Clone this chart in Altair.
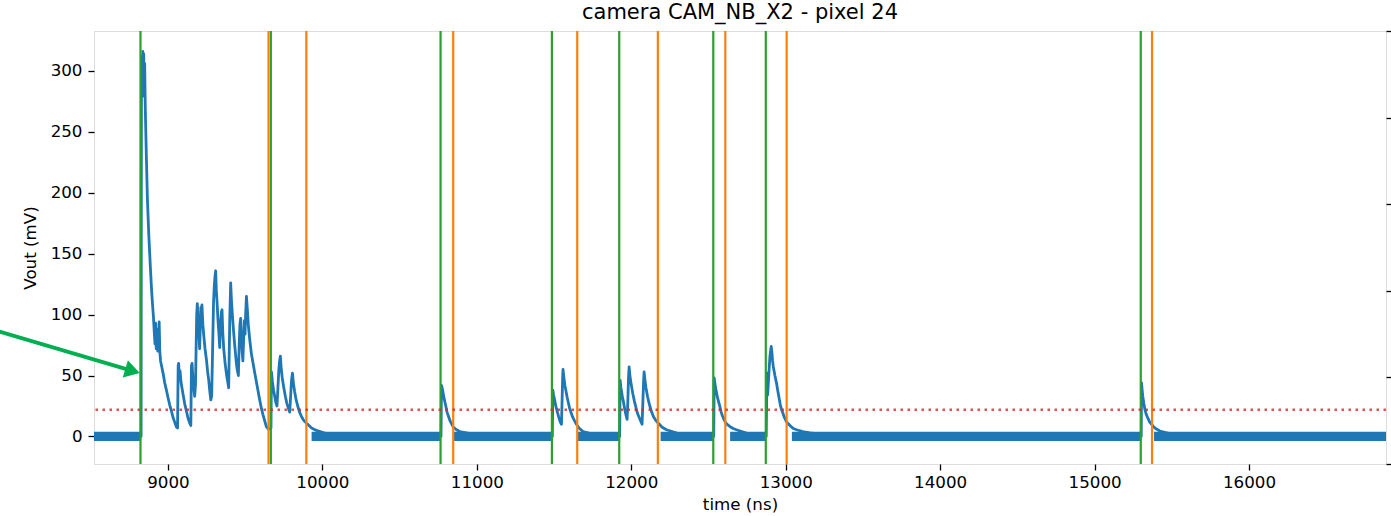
import altair as alt
import pandas as pd

# ---- data ----
times = [8521, 8826,
         8828, 8831, 8834, 8837, 8840, 8843, 8846, 8849, 8853, 8860, 8867, 8876, 8886, 8893, 8899, 8906, 8912, 8916,
         8920, 8924, 8929, 8934, 8939, 8943, 8947, 8952, 8960, 8968, 8979, 8990, 9000, 9011, 9022, 9032, 9043, 9054, 9062,
         9066, 9069, 9073, 9078, 9085, 9097, 9108, 9119, 9130, 9141, 9148,
         9152, 9156, 9162, 9167, 9173, 9178,
         9186, 9190, 9195, 9200, 9205, 9209, 9213, 9217, 9220, 9226, 9231, 9240, 9249, 9257, 9264, 9270, 9277, 9283,
         9295, 9300, 9305, 9309, 9313, 9318, 9324, 9330, 9335, 9340, 9346, 9350, 9355, 9361, 9370, 9380, 9388, 9393,
         9400, 9406, 9411, 9418, 9425, 9432, 9438, 9443, 9448, 9456, 9461, 9466, 9471, 9475, 9480, 9485, 9490, 9495,
         9499, 9503, 9508, 9513, 9520, 9529, 9540, 9551, 9562, 9578, 9594, 9605, 9615, 9626, 9637, 9650, 9667,
         9670, 9676, 9684, 9691, 9698, 9706, 9712, 9718, 9723, 9728, 9733, 9740, 9750, 9760, 9770, 9780, 9788,
         9793, 9800, 9806, 9812, 9820, 9830, 9840, 9852, 9866, 9880, 9896, 9913, 9930, 9945, 9961, 9985, 10010,
         10060, 10112, 10200, 10768,
         10771, 10777, 10784, 10790, 10799, 10807, 10815, 10823, 10830, 10846, 10868, 10889, 10950, 11019, 11100, 11489,
         11492, 11497, 11505, 11515, 11530, 11540, 11548, 11552, 11556, 11558, 11563, 11570, 11585, 11601, 11620,
         11632, 11645, 11665, 11688, 11750, 11850, 11925,
         11928, 11933, 11942, 11950, 11958, 11965, 11973, 11978, 11982, 11986, 11991, 11998, 12010, 12020, 12030,
         12040, 12050, 12060, 12070, 12075, 12080, 12083, 12088, 12095, 12105, 12112, 12120, 12132, 12145, 12160,
         12174, 12200, 12228, 12300, 12400, 12534,
         12537, 12542, 12550, 12560, 12573, 12582, 12590, 12600, 12612, 12625, 12640, 12660, 12681, 12750, 12800, 12874,
         12877, 12879, 12883, 12888, 12893, 12898, 12903, 12906, 12910, 12915, 12920, 12930, 12940, 12948, 12955,
         12965, 12973, 12982, 12990, 13005, 13020, 13035, 13050, 13070, 13110, 13156, 13230, 13300, 13450, 15302,
         15304, 15308, 15312, 15319, 15326, 15335, 15345, 15356, 15369, 15382, 15395, 15423, 15480, 15531, 15650, 16887]
volts = [0, 0,
         282, 312, 279, 316, 284, 314, 281, 306, 270, 230, 194, 165, 139, 122, 110, 98, 84, 76,
         93, 72, 88, 70, 82, 94, 70, 62, 57, 52, 44, 38, 32, 26, 21, 16, 12, 8, 7,
         58, 60, 50, 54, 44, 35, 27, 21, 15, 11, 9,
         58, 60, 46, 40, 33, 42,
         100, 109, 96, 86, 72, 88, 106, 100, 108, 92, 84, 72, 63, 53, 46, 38, 30, 33,
         110, 124, 132, 136, 120, 110, 95, 84, 73, 92, 102, 104, 85, 72, 60, 50, 44, 40,
         95, 126, 112, 98, 86, 75, 67, 60, 55, 50, 75, 92, 97, 82, 70, 62, 80, 95,
         84, 100, 115, 106, 92, 80, 68, 60, 52, 41, 30, 23, 18, 13, 8, 6, 7,
         53, 45, 38, 33, 28, 25, 40, 55, 62, 66, 56, 48, 40, 33, 27, 23, 20,
         30, 46, 52, 44, 37, 30, 25, 20, 16, 13, 11, 9, 7, 6, 5, 4, 3,
         1.8, 0.8, 0, 0,
         42, 39, 34, 30, 25, 20, 17, 14, 12, 8, 5.5, 4, 2.5, 1.2, 0, 0,
         38, 34, 29, 23, 16, 12, 10, 30, 50, 55, 49, 42, 32, 23, 16,
         13, 10, 6.5, 4, 2, 0.5, 0,
         46, 40, 33, 28, 22, 18, 14, 30, 48, 57, 50, 44, 35, 29, 24,
         19, 16, 13, 10, 28, 46, 53, 47, 40, 33, 29, 25, 20, 16, 13,
         11, 7.5, 5.5, 2.5, 0.8, 0,
         48, 43, 37, 31, 25, 20, 17, 14, 11, 9.5, 8, 6.5, 5.5, 2.5, 1, 0,
         36, 52, 34, 45, 56, 66, 71, 74, 70, 62, 57, 50, 44, 38, 33,
         26, 22, 19, 16, 12, 10, 8, 6.5, 5.5, 4, 3, 2, 1, 0, 0,
         44, 38, 33, 27, 22, 18, 15, 12, 10, 8, 6.5, 4.5, 2.5, 1.4, 0.3, 0]

# noisy baseline stretches (start, end) and their envelope
band_start = [8521, 9930, 10846, 11650, 12190, 12640, 13040, 15385]
band_end = [8826, 10768, 11489, 11925, 12534, 12874, 15302, 16887]
band_lo = [-3.8, -3.8, -3.8, -3.8, -3.8, -3.8, -3.8, -3.8]
band_hi = [3.8, 3.8, 3.8, 3.8, 3.8, 3.8, 3.8, 3.8]

green_t = [8822, 9666, 10765, 11486, 11922, 12531, 12871, 15299]
orange_t = [9651, 9896, 10847, 11650, 12172, 12609, 13006, 15372]
threshold = [22]

arrow_tail_t, arrow_tail_v = [7780], [90.9]
arrow_end_t, arrow_end_v = [8742], [54.8]
arrow_tip_t, arrow_tip_v = [8817], [52]

x_ticks = [9000, 10000, 11000, 12000, 13000, 14000, 15000, 16000]
y_ticks = [0, 50, 100, 150, 200, 250, 300]
right_ticks = [0, 0.2, 0.4, 0.6, 0.8, 1.0]

# ---- tables ----
trace = pd.DataFrame({"t": times, "v": volts, "i": list(range(len(times)))})
bands = pd.DataFrame({"t1": band_start, "t2": band_end, "lo": band_lo, "hi": band_hi})
greens = pd.DataFrame({"t": green_t})
oranges = pd.DataFrame({"t": orange_t})
thr = pd.DataFrame({"v": threshold})
shaft = pd.DataFrame({"t1": arrow_tail_t, "v1": arrow_tail_v, "t2": arrow_end_t, "v2": arrow_end_v})
tip = pd.DataFrame({"t": arrow_tip_t, "v": arrow_tip_v})
rdummy = pd.DataFrame({"r": [0, 1]})

FONT = "DejaVu Sans"
BLUE = "#1f77b4"
xs = alt.Scale(domain=[8521, 16887], nice=False, zero=False)
ys = alt.Scale(domain=[-22.6, 332.8], nice=False, zero=False)

xaxis = alt.Axis(values=x_ticks, format="d", title="time (ns)", grid=False, domain=False,
                 tickColor="black", tickSize=6, tickWidth=1.3, labelFontSize=16.7,
                 labelColor="black", labelPadding=4, labelFont=FONT,
                 titleFontSize=16.7, titleFontWeight="normal", titleColor="black", titleFont=FONT,
                 titleX=646, titleY=40, titleBaseline="middle", titleAlign="center")
yaxis = alt.Axis(values=y_ticks, title="Vout (mV)", grid=False, domain=False,
                 tickColor="black", tickSize=6, tickWidth=1.3, labelFontSize=16.7,
                 labelColor="black", labelPadding=6, labelFont=FONT,
                 titleFontSize=16.7, titleFontWeight="normal", titleColor="black", titleFont=FONT,
                 titleX=-64, titleY=216.5, titleBaseline="middle", titleAlign="center")

band_layer = alt.Chart(bands).mark_rect(color=BLUE).encode(
    x=alt.X("t1:Q", scale=xs, axis=xaxis), x2="t2:Q",
    y=alt.Y("lo:Q", scale=ys, axis=yaxis), y2="hi:Q")

line_layer = alt.Chart(trace).mark_line(color=BLUE, strokeWidth=2.8, strokeJoin="round").encode(
    x=alt.X("t:Q", scale=xs, axis=xaxis),
    y=alt.Y("v:Q", scale=ys, axis=yaxis),
    order="i:Q")

green_layer = alt.Chart(greens).mark_rule(color="#2ca02c", strokeWidth=2.2).encode(
    x=alt.X("t:Q", scale=xs, axis=xaxis))
orange_layer = alt.Chart(oranges).mark_rule(color="#ff7f0e", strokeWidth=2.2).encode(
    x=alt.X("t:Q", scale=xs, axis=xaxis))

thr_layer = alt.Chart(thr).mark_rule(color="#d62728", strokeWidth=2.5, strokeDash=[2.5, 4.5],
                                     opacity=0.8).encode(
    y=alt.Y("v:Q", scale=ys, axis=yaxis))

shaft_layer = alt.Chart(shaft).mark_rule(color="#00b050", strokeWidth=4).encode(
    x=alt.X("t1:Q", scale=xs, axis=xaxis), y=alt.Y("v1:Q", scale=ys, axis=yaxis),
    x2="t2:Q", y2="v2:Q")

tip_layer = alt.Chart(tip).mark_point(shape="M0,0 L-1,-0.6 L-1,0.6 Z", filled=True, size=900,
                                      angle=16.5, color="#00b050", opacity=1).encode(
    x=alt.X("t:Q", scale=xs, axis=xaxis), y=alt.Y("v:Q", scale=ys, axis=yaxis))

main = alt.layer(band_layer, line_layer, green_layer, orange_layer, thr_layer, shaft_layer, tip_layer)

right_layer = alt.Chart(rdummy).mark_point(opacity=0).encode(
    y=alt.Y("r:Q", scale=alt.Scale(domain=[0, 1], nice=False, zero=False),
            axis=alt.Axis(orient="right", values=right_ticks, labels=False, title="",
                          domain=False, grid=False, tickColor="black", tickSize=6, tickWidth=1.3)))

chart = alt.layer(main, right_layer).resolve_scale(y="independent").properties(
    width=1292, height=433,
    autosize=alt.AutoSizeParams(type="none"),
    padding={"left": 94, "top": 31, "right": 5, "bottom": 52},
    title=alt.TitleParams("camera CAM_NB_X2 - pixel 24", font=FONT, fontSize=21,
                          fontWeight="normal", color="black", anchor="middle",
                          baseline="alphabetic", offset=10, dy=22),
).configure_view(stroke="black", strokeWidth=1.3).configure(font=FONT)

chart.save("out.html", embed_options={"renderer": "svg", "actions": False})
